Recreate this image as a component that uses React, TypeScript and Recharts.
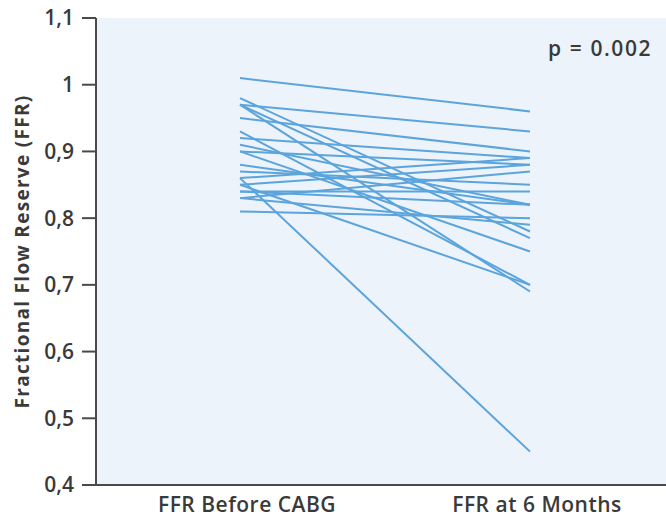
import React from 'react';
import { LineChart, Line, XAxis, YAxis, CartesianGrid } from 'recharts';

const categories = ['FFR Before CABG', 'FFR at 6 Months'];
const before = [1.01, 0.97, 0.95, 0.98, 0.97, 0.97, 0.93, 0.92, 0.91, 0.9, 0.9, 0.88, 0.87, 0.86, 0.86, 0.85, 0.85, 0.84, 0.84, 0.83, 0.83, 0.81];
const after = [0.96, 0.93, 0.9, 0.78, 0.77, 0.69, 0.7, 0.89, 0.82, 0.75, 0.88, 0.82, 0.85, 0.45, 0.89, 0.88, 0.7, 0.84, 0.82, 0.87, 0.79, 0.8];
const yTicks = [0.4, 0.5, 0.6, 0.7, 0.8, 0.9, 1, 1.1];
const pText = 'p = 0.002';
const yLabel = 'Fractional Flow Reserve (FFR)';

const data = categories.map((c, i) => {
  const row: Record<string, any> = { cat: c };
  before.forEach((v, k) => {
    row['p' + k] = i === 0 ? v : after[k];
  });
  return row;
});

const FONT = '"Open Sans", sans-serif';
const TEXT = '#3a3a3a';
const AXIS = '#4a4a4a';
const LINE = '#5ba4dc';

export default function App() {
  return (
    <div style={{ position: 'absolute', left: 0, top: 0, width: 666, height: 519, fontFamily: FONT }}>
      <LineChart width={666} height={519} data={data} margin={{ top: 18, right: 0, bottom: 0, left: 0 }}>
        <CartesianGrid fill="#ecf3fb" horizontal={false} vertical={false} stroke="none" />
        <XAxis
          dataKey="cat"
          height={34}
          padding={{ left: 144, right: 136 }}
          tickLine={false}
          stroke={AXIS}
          strokeWidth={2}
          tickMargin={6}
          dx={7}
          tick={{ fill: TEXT, fontSize: 21, fontFamily: FONT, fontWeight: 600, letterSpacing: 0.5 }}
        />
        <YAxis
          type="number"
          domain={[0.4, 1.1]}
          ticks={yTicks}
          width={96}
          stroke={AXIS}
          strokeWidth={2}
          tickSize={14}
          tickMargin={8}
          interval={0}
          tickFormatter={(v: number) => String(v).replace('.', ',')}
          tick={{ fill: TEXT, fontSize: 21, fontFamily: FONT, fontWeight: 600 }}
          label={{
            value: yLabel,
            angle: -90,
            position: 'insideLeft',
            offset: 22,
            style: { textAnchor: 'middle', fill: TEXT, fontSize: 19, fontWeight: 700, fontFamily: FONT, letterSpacing: 1.3 },
          }}
        />
        {before.map((_, k) => (
          <Line
            key={k}
            type="linear"
            dataKey={'p' + k}
            stroke={LINE}
            strokeWidth={2}
            dot={false}
            activeDot={false}
            isAnimationActive={false}
          />
        ))}
      </LineChart>
      <div
        style={{
          position: 'absolute',
          left: 548,
          top: 33,
          fontSize: 21,
          color: TEXT,
          fontFamily: FONT,
          fontWeight: 600,
          letterSpacing: 1.6,
          lineHeight: '30px',
          whiteSpace: 'nowrap',
        }}
      >
        {pText}
      </div>
    </div>
  );
}
